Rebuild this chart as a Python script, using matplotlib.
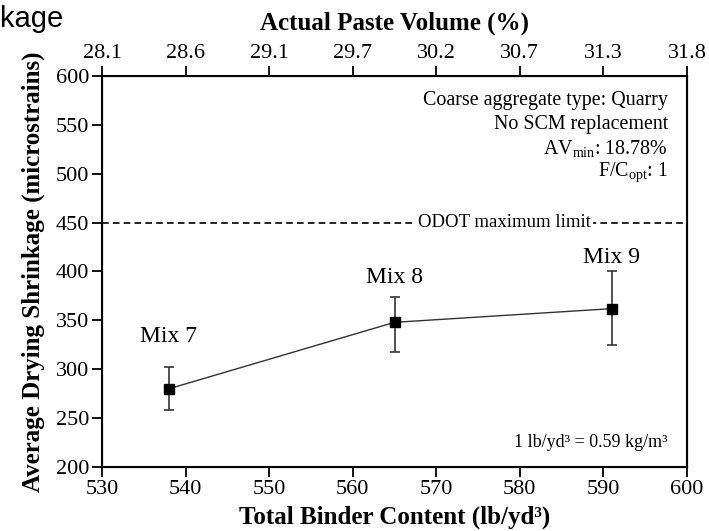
import matplotlib
matplotlib.use("Agg")
import matplotlib.pyplot as plt

binder = [538, 565, 591]
shrinkage = [280, 348, 362]
err_low = [22, 30, 37]
err_high = [22, 26, 38]
mix_labels = ["Mix 7", "Mix 8", "Mix 9"]
label_y = [333, 394, 414]
x_ticks = [530, 540, 550, 560, 570, 580, 590, 600]
top_tick_labels = ["28.1", "28.6", "29.1", "29.7", "30.2", "30.7", "31.3", "31.8"]
y_ticks = [200, 250, 300, 350, 400, 450, 500, 550, 600]
odot_limit = 450

plt.rcParams['font.family'] = ['Liberation Serif', 'DejaVu Serif']
plt.rcParams['mathtext.fontset'] = 'custom'
plt.rcParams['mathtext.rm'] = 'Liberation Serif'
plt.rcParams['mathtext.it'] = 'Liberation Serif:italic'
plt.rcParams['mathtext.bf'] = 'Liberation Serif:bold'

fig = plt.figure(figsize=(7.09, 5.31), dpi=100)
ax = fig.add_axes([102/709, 1-467/531, 585/709, 391/531])

ax.plot(binder, shrinkage, color='#333333', lw=1.0, zorder=2)
ax.errorbar(binder, shrinkage, yerr=[err_low, err_high], fmt='s', color='black',
            ecolor='#333333', elinewidth=1.2, capsize=3.5, capthick=1.2,
            markersize=7, zorder=3)

for x, ly, lab in zip(binder, label_y, mix_labels):
    ax.text(x, ly, lab, ha='center', va='center', fontsize=17)

ax.axhline(odot_limit, color='black', lw=1.2, ls=(0, (4, 2.5)), zorder=1)
ax.text(578.2, odot_limit, "ODOT maximum limit", ha='center', va='center', fontsize=13.5,
        bbox=dict(facecolor='white', edgecolor='none', pad=1.5), zorder=2)

ax.set_xlim(530, 600)
ax.set_ylim(200, 600)
ax.set_xticks(x_ticks)
ax.set_yticks(y_ticks)
ax.tick_params(axis='both', direction='out', length=7, width=1.3, labelsize=16, pad=2)
for s in ax.spines.values():
    s.set_linewidth(1.5)

ax.set_xlabel("Total Binder Content (lb/yd³)", fontsize=18, fontweight='bold', labelpad=5)
ax.set_ylabel("Average Drying Shrinkage (microstrains)", fontsize=18, fontweight='bold', labelpad=8)

ax2 = ax.twiny()
ax2.set_xlim(ax.get_xlim())
ax2.set_xticks(x_ticks)
ax2.set_xticklabels(top_tick_labels)
ax2.tick_params(axis='x', direction='out', length=7, width=1.3, labelsize=16, pad=2)
ax2.set_xlabel("Actual Paste Volume (%)", fontsize=18, fontweight='bold', labelpad=11)

notes = ["Coarse aggregate type: Quarry", "No SCM replacement",
         r"AV$_{\mathrm{min}}$: 18.78%", r"F/C$_{\mathrm{opt}}$: 1"]
for i, t in enumerate(notes):
    ax.text(0.9675, 0.9386 - i * 0.0614, t, transform=ax.transAxes, ha='right', va='center', fontsize=14.4)

ax.text(0.9675, 0.062, "1 lb/yd³ = 0.59 kg/m³", transform=ax.transAxes,
        ha='right', va='center', fontsize=13)

fig.text(0.0, 0.99, "kage", ha='left', va='top', fontsize=21, family=['Liberation Sans', 'DejaVu Sans'])

fig.savefig("out.png", dpi=100)
